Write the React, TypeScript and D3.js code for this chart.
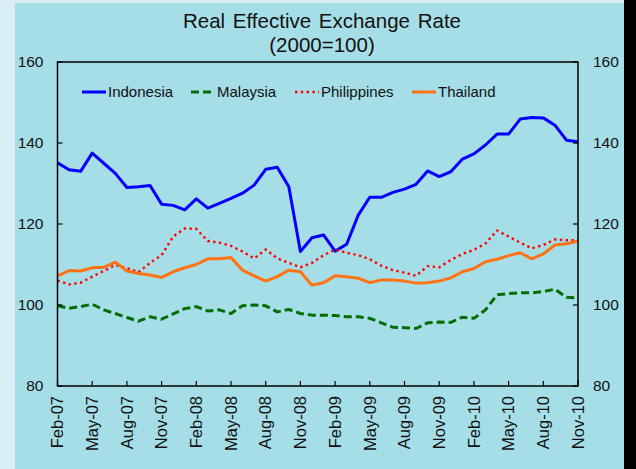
import * as d3 from 'd3';

const months = [
  'Feb-07', 'Mar-07', 'Apr-07', 'May-07', 'Jun-07', 'Jul-07', 'Aug-07', 'Sep-07', 'Oct-07', 'Nov-07', 'Dec-07', 'Jan-08',
  'Feb-08', 'Mar-08', 'Apr-08', 'May-08', 'Jun-08', 'Jul-08', 'Aug-08', 'Sep-08', 'Oct-08', 'Nov-08', 'Dec-08', 'Jan-09',
  'Feb-09', 'Mar-09', 'Apr-09', 'May-09', 'Jun-09', 'Jul-09', 'Aug-09', 'Sep-09', 'Oct-09', 'Nov-09', 'Dec-09', 'Jan-10',
  'Feb-10', 'Mar-10', 'Apr-10', 'May-10', 'Jun-10', 'Jul-10', 'Aug-10', 'Sep-10', 'Oct-10', 'Nov-10',
];

const tickLabels = [
  'Feb-07', 'May-07', 'Aug-07', 'Nov-07', 'Feb-08', 'May-08', 'Aug-08', 'Nov-08',
  'Feb-09', 'May-09', 'Aug-09', 'Nov-09', 'Feb-10', 'May-10', 'Aug-10', 'Nov-10',
];

const yTicks = [80, 100, 120, 140, 160];

const indonesia = [
  135.1, 133.4, 133.0, 137.5, 135.0, 132.5, 129.0, 129.2, 129.5, 124.9, 124.6, 123.5,
  126.2, 123.9, 125.1, 126.3, 127.6, 129.6, 133.5, 134.0, 129.2, 113.2, 116.6, 117.3,
  113.3, 115.0, 122.2, 126.6, 126.6, 127.8, 128.6, 129.8, 133.1, 131.7, 132.9, 136.0,
  137.3, 139.5, 142.2, 142.2, 145.9, 146.3, 146.2, 144.4, 140.7, 140.3,
];

const malaysia = [
  99.8, 99.2, 99.6, 100.2, 98.8, 97.9, 96.9, 96.0, 97.1, 96.5, 97.8, 99.1,
  99.6, 98.5, 98.8, 97.9, 99.8, 100.0, 99.8, 98.3, 98.9, 97.9, 97.5, 97.5,
  97.4, 97.1, 97.1, 96.7, 95.6, 94.5, 94.4, 94.2, 95.6, 95.8, 95.7, 97.0,
  96.7, 98.8, 102.5, 102.8, 103.0, 103.0, 103.3, 103.9, 101.9, 101.7,
];

const philippines = [
  106.0, 105.1, 105.5, 107.0, 108.4, 109.9, 109.1, 108.1, 110.4, 112.3, 116.9, 118.9,
  118.8, 115.8, 115.4, 114.6, 113.2, 111.5, 113.7, 111.5, 110.4, 109.3, 110.4, 112.3,
  113.7, 112.9, 112.3, 111.3, 109.7, 108.6, 108.0, 107.2, 109.6, 109.3, 111.1, 112.6,
  113.6, 115.2, 118.4, 116.9, 115.4, 114.0, 114.8, 116.2, 116.0, 116.0,
];

const thailand = [
  107.2, 108.5, 108.4, 109.2, 109.3, 110.6, 108.4, 107.8, 107.4, 106.8, 108.2, 109.2,
  110.0, 111.4, 111.4, 111.7, 108.6, 107.2, 105.9, 107.0, 108.6, 108.2, 104.9, 105.5,
  107.2, 107.0, 106.6, 105.5, 106.2, 106.2, 105.9, 105.4, 105.5, 105.9, 106.7, 108.2,
  109.0, 110.7, 111.3, 112.2, 112.9, 111.4, 112.6, 114.8, 115.1, 115.8,
];

const seriesNames = ['Indonesia', 'Malaysia', 'Philippines', 'Thailand'];

const series = [
  { name: seriesNames[0], values: indonesia, color: '#0000ff', dash: undefined, width: 3 },
  { name: seriesNames[1], values: malaysia, color: '#046c04', dash: '8,4', width: 3 },
  { name: seriesNames[2], values: philippines, color: '#ff0000', dash: '2.4,3.4', width: 2.4 },
  { name: seriesNames[3], values: thailand, color: '#ff7314', dash: undefined, width: 3 },
];

const legendX = [82, 191, 295, 412];

export default function App() {
  const width = 636;
  const height = 469;
  const margin = { top: 62, right: 58, bottom: 83, left: 57.5 };
  const innerW = width - margin.left - margin.right;
  const innerH = height - margin.top - margin.bottom;

  const x = d3.scalePoint<string>().domain(months).range([0, innerW]);
  const y = d3.scaleLinear().domain([80, 160]).range([innerH, 0]);

  const line = d3.line<number>()
    .x((_, i) => x(months[i]) ?? 0)
    .y(d => y(d));

  const font = 'Arial, "Liberation Sans", Helvetica, sans-serif';
  const textColor = '#111';

  return (
    <svg width={width} height={height} style={{ position: 'absolute', left: 0, top: 0 }} fontFamily={font}>
      <rect width={width} height={height} fill="#d8eef3" />
      <rect x={15} y={3} width={609} height={height - 3} fill="#a6dee8" />
      <rect x={624} y={0} width={12} height={height} fill="#000" />

      <text x={322} y={28} textAnchor="middle" fontSize={20.5} fill={textColor} wordSpacing={2}>
        Real Effective Exchange Rate
      </text>
      <text x={322} y={52} textAnchor="middle" fontSize={20.5} fill={textColor}>
        (2000=100)
      </text>

      <g transform={`translate(${margin.left},${margin.top})`}>
        {series.map(s => (
          <path
            key={s.name}
            d={line(s.values) ?? ''}
            fill="none"
            stroke={s.color}
            strokeWidth={s.width}
            strokeDasharray={s.dash}
            strokeLinejoin="round"
          />
        ))}

        <rect x={0} y={0} width={innerW} height={innerH} fill="none" stroke="#000" strokeWidth={1.5} />

        {yTicks.map(t => (
          <g key={t}>
            <line x1={0} x2={5} y1={y(t)} y2={y(t)} stroke="#000" strokeWidth={1.2} />
            <line x1={innerW - 5} x2={innerW} y1={y(t)} y2={y(t)} stroke="#000" strokeWidth={1.2} />
            <text x={-14} y={y(t)} dy="0.35em" textAnchor="end" fontSize={15.5} fill={textColor}>{t}</text>
            <text x={innerW + 15} y={y(t)} dy="0.35em" textAnchor="start" fontSize={15.5} fill={textColor}>{t}</text>
          </g>
        ))}

        {tickLabels.map(m => {
          const px = x(m) ?? 0;
          return (
            <g key={m}>
              <line x1={px} x2={px} y1={innerH} y2={innerH - 5} stroke="#000" strokeWidth={1.2} />
              <text
                transform={`translate(${px},${innerH + 10}) rotate(-90)`}
                dy="0.35em"
                textAnchor="end"
                fontSize={16.5}
                fill={textColor}
              >
                {m}
              </text>
            </g>
          );
        })}
      </g>

      {series.map((s, i) => (
        <g key={s.name} transform={`translate(${legendX[i]},92)`}>
          <line x1={0} x2={24} y1={0} y2={0} stroke={s.color} strokeWidth={s.width} strokeDasharray={s.dash} />
          <text x={26} y={0} dy="0.35em" fontSize={15} fill={textColor}>{s.name}</text>
        </g>
      ))}
    </svg>
  );
}
